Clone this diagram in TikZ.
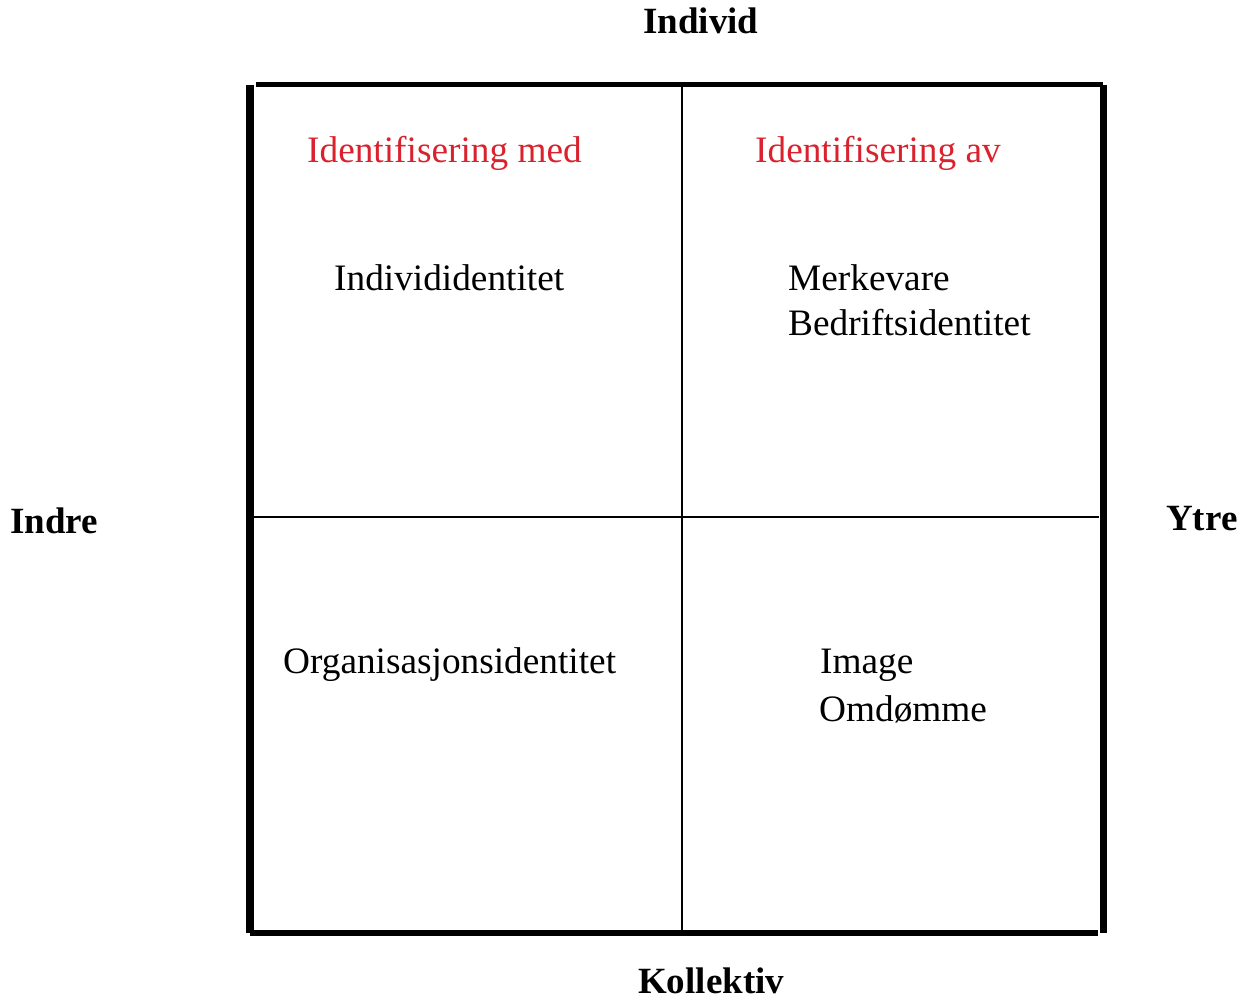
\documentclass[tikz,border=0pt]{standalone}
\usepackage{fontspec}
\setmainfont{Liberation Serif}
\definecolor{idred}{RGB}{218,34,46}
\begin{document}
\begin{tikzpicture}[x=1pt,y=-1pt,
  lbl/.style={anchor=base west,inner sep=0pt,font=\fontsize{37.3}{44}\selectfont},
  axis/.style={lbl,font=\fontsize{37}{44}\selectfont\bfseries},
  head/.style={lbl,text=idred},
  vthick/.style={line width=7.5pt},
  hthick/.style={line width=5.5pt},
  thin/.style={line width=2pt}]
\useasboundingbox (0,0) rectangle (1242,997);
% frame corners
\coordinate (tl) at (250,85);
\coordinate (bl) at (250,933);
\coordinate (tr) at (1103.5,85);
\coordinate (br) at (1103.5,933);
\draw[vthick] (tl) -- (bl);
\draw[vthick] (tr) -- (br);
\draw[hthick] (256,84.5) -- (1103,84.5);
\draw[hthick] (250,933) -- (1098,933);
\draw[thin] (682,87) -- (682,933);
\draw[thin] (254,517) -- (1099,517);
% axis labels
\node[axis] (individ) at (643,33) {Individ};
\node[axis] (kollektiv) at (638,993) {Kollektiv};
\node[axis] (indre) at (10,533) {Indre};
\node[axis] (ytre) at (1166,530) {Ytre};
% headings
\node[head] (hmed) at (307,162) {Identifisering med};
\node[head] (hav) at (755,162) {Identifisering av};
% quadrant texts
\node[lbl] (q1) at (334,290) {Individidentitet};
\node[lbl] (q2a) at (788,290) {Merkevare};
\node[lbl] (q2b) at (788,335) {Bedriftsidentitet};
\node[lbl] (q3) at (283,673) {Organisasjonsidentitet};
\node[lbl] (q4a) at (820,673) {Image};
\node[lbl] (q4b) at (819,721) {Omdømme};
\end{tikzpicture}
\end{document}
